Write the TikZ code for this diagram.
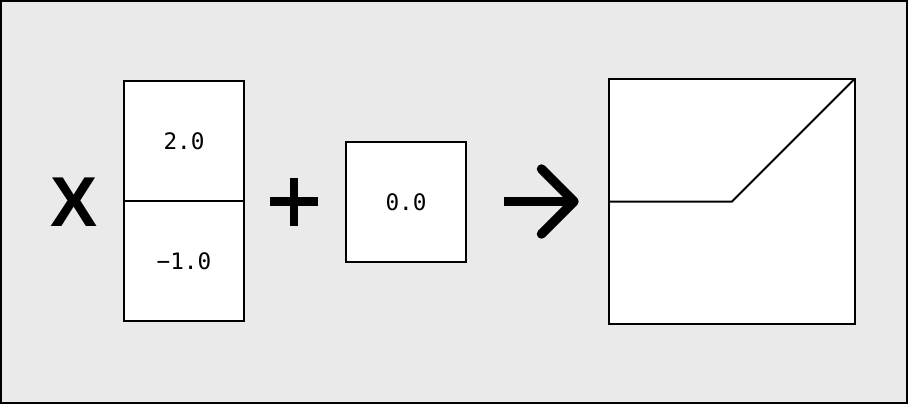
\documentclass[tikz,border=0pt]{standalone}
\usepackage{fontspec}
\setmainfont{Liberation Sans}
\setmonofont{DejaVu Sans Mono}
\definecolor{bggray}{RGB}{234,234,234}
\tikzset{cell/.style={draw,fill=white,line width=1.5pt,inner sep=0pt,outer sep=0pt,
    minimum width=90pt,minimum height=90pt,font=\ttfamily\fontsize{17}{17}\selectfont},
  thick sign/.style={line width=6.4pt},
  arrow line/.style={line width=7.1pt}}

\begin{document}
\begin{tikzpicture}[x=0.75pt,y=-0.75pt]
 % \draw[thin,gray!40] (0,0) grid (908,404);
  \useasboundingbox (0,0) rectangle (908,404);
  \draw[line width=1.5pt,fill=bggray] (1,1) rectangle (907,403);
  \node[font=\bfseries\fontsize{53}{53}\selectfont] (x) at (74,202) {X};
  \node[cell] (w1) at (184,141) {2.0};
  \node[cell] (w2) at (184,261) {−1.0};
  \draw[thick sign] (270,201.5)--(318,201.5) (294,177.5)--(294,225.5);
  \node[cell] (b) at (406,202) {0.0};
  \coordinate (a0) at (504,201.5);
  \coordinate (a1) at (574,201.5);
  \coordinate (a2) at (541.5,169);
  \coordinate (a3) at (541.5,234);
  \draw[arrow line] (a0)--(a1);
  \draw[arrow line,line cap=round,line join=round] (a2)--(a1)--(a3);
  \node[cell,minimum width=184pt,minimum height=184pt] (relu) at (732,201.5) {};
  \draw[line width=1.5pt] (relu.west)--(relu.center)--(relu.north east);
\end{tikzpicture}
\end{document}
